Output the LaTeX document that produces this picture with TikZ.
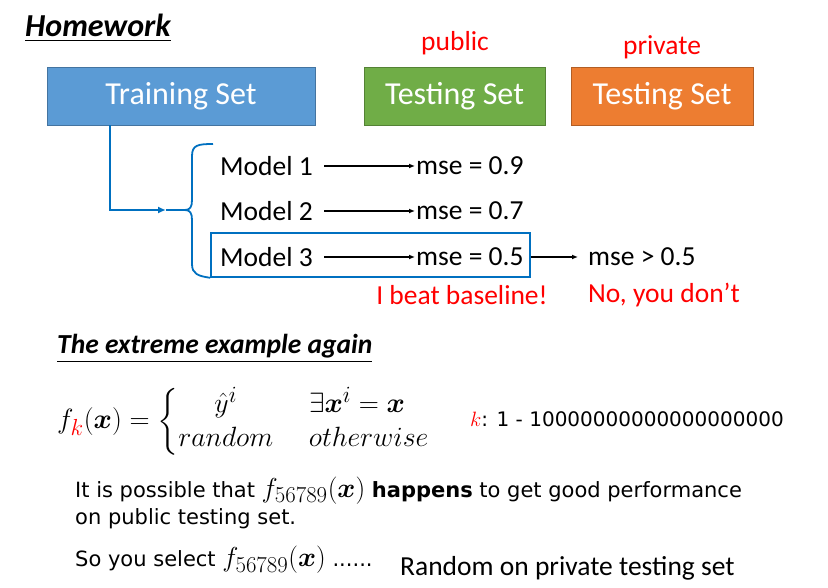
\documentclass[tikz,border=0pt]{standalone}
\usepackage{amsmath,bm,graphicx}
\usepackage{fontspec}
\setmainfont{Carlito}
\newfontfamily\verdfont{DejaVu Sans}
\usetikzlibrary{arrows.meta,positioning}
\definecolor{trainblue}{HTML}{5B9BD5}
\definecolor{testgreen}{HTML}{70AD47}
\definecolor{testorange}{HTML}{ED7D31}
\definecolor{linkblue}{HTML}{0070C0}
\definecolor{warnred}{HTML}{FF0000}
\newcommand{\fsel}{\scalebox{1.1}{\fontsize{24.88}{27}\selectfont$f_{56789}(\bm{x})$}}
\tikzset{
  setbox/.style={draw=#1!75!black, fill=#1, text=white, line width=0.8pt,
    minimum height=58pt, inner sep=0pt, font=\fontsize{32}{36}\selectfont},
  redtxt/.style={text=warnred, inner sep=0pt, font=\fontsize{27.5}{32}\selectfont},
  plaintxt/.style={inner sep=0pt, anchor=west, font=\fontsize{27.5}{32}\selectfont},
  res/.style={-{Latex[length=6pt,width=5pt]}, line width=1.2pt},
  conn/.style={linkblue, line width=2.2pt},
}
\begin{document}
\begin{tikzpicture}[x=1pt,y=-1pt]
  \useasboundingbox (0,0) rectangle (828,588);
  \node[anchor=west, inner sep=0pt, font=\fontsize{32}{36}\selectfont\bfseries\itshape]
    (homework) at (25,28) {\underline{Homework}};

  % the three sets
  \node[setbox=trainblue, minimum width=268pt] (train) at (181,96) {Training Set};
  \node[setbox=testgreen, minimum width=181pt] (public) at (454.5,96) {Testing Set};
  \node[setbox=testorange, minimum width=182pt] (private) at (662,96) {Testing Set};
  \node[redtxt] (publabel) at (455,43) {public};
  \node[redtxt] (privlabel) at (662,47) {private};

  % models and their scores
  \foreach \i/\y/\m in {1/166/0.9,2/211/0.7,3/257/0.5} {
    \node[plaintxt] (model\i) at (220,\y) {Model \i};
    \node[plaintxt] (mse\i) at (416,\y) {mse = \m};
    \draw[res] ([xshift=11pt]model\i.east) -- ([xshift=-1pt]mse\i.west);
  }
  \node[draw=linkblue, line width=1.6pt, minimum width=319pt, minimum height=44pt,
    inner sep=0pt] (best) at (370.5,255) {};
  \node[plaintxt] (msepriv) at (588,257) {mse > 0.5};
  \draw[res] (best.east |- msepriv.west) -- ([xshift=-10pt]msepriv.west);
  \node[redtxt] (beat) at (462,295) {I beat baseline!};
  \node[redtxt, anchor=west] (dont) at (588,295) {No, you don’t};

  % brace and link from training set
  \coordinate (tip) at (185,210);
  \coordinate (turn) at (110,210);
  \coordinate (mid) at (166,210);
  \draw[conn, line width=1.8pt] (213,144) .. controls (198,144) and (192,145) .. (192,156)
    -- (192,200) .. controls (192,207) and (190,210) .. (tip)
    .. controls (190,210) and (192,213) .. (192,220) -- (192,264)
    .. controls (192,274) and (198,276) .. (best.south west);
  \draw[conn, -{Latex[length=8pt,width=7pt]}] (train.south -| turn) -- (turn) -- (mid);
  \draw[conn] (mid) -- (tip);

  % second part
  \node[anchor=west, inner sep=0pt, font=\fontsize{27.5}{32}\selectfont\bfseries\itshape]
    (extreme) at (57,349) {\underline{The extreme example again}};
  \node[anchor=west, inner sep=0pt, scale=1.12, font=\fontsize{24.88}{30}\selectfont] (fk) at (57,422)
    {$f_{\color{warnred}k}(\bm{x}) = \left\{\begin{array}{@{}c@{\hspace{32pt}}l@{}}
      \hat{y}^i & \exists \bm{x}^i = \bm{x}\\
      \mathnormal{random} & \mathnormal{otherwise}
    \end{array}\right.$};
  \node[anchor=west, inner sep=0pt, font=\verdfont\fontsize{20}{22}\selectfont]
    (krange) at (470,419) {$\color{warnred}k$: 1 - 10000000000000000000};
  \node[anchor=north west, inner sep=0pt, align=left, font=\verdfont\fontsize{21}{27}\selectfont]
    (possible) at (75,477) {It is possible that \fsel{} \textbf{happens} to get good performance\\
    on public testing set.};
  \node[anchor=west, inner sep=0pt, font=\verdfont\fontsize{21}{25}\selectfont]
    (select) at (75,560) {So you select \fsel{} ......};
  \node[plaintxt] (random) at (400,568) {Random on private testing set};
\end{tikzpicture}
\end{document}
